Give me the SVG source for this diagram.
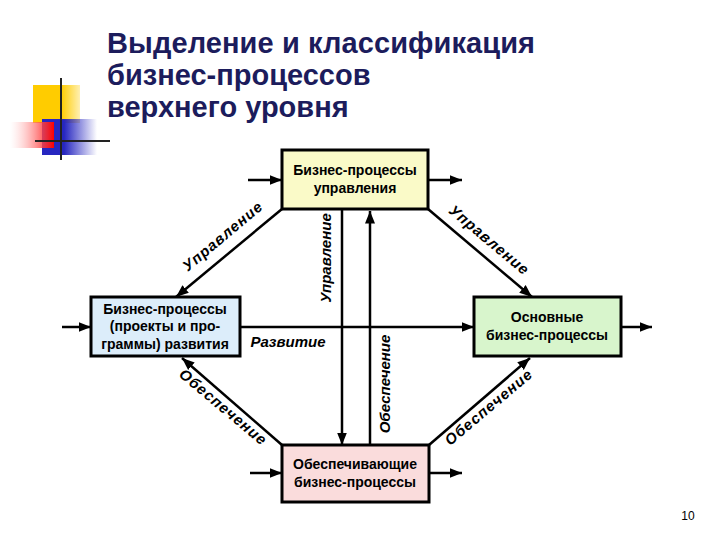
<svg xmlns="http://www.w3.org/2000/svg" width="720" height="540" viewBox="0 0 720 540">
<defs>
<marker id="ah" viewBox="0 0 10 10" refX="10" refY="5" markerWidth="5" markerHeight="5" orient="auto"><path d="M0,1 L10,5 L0,9 z" fill="#000"/></marker>
<linearGradient id="gr" x1="0" x2="1"><stop offset="0" stop-color="#fff" stop-opacity="0.3"/><stop offset="1" stop-color="#f00"/></linearGradient>
<linearGradient id="gb" x1="0" x2="1"><stop offset="0.4" stop-color="#2626c0"/><stop offset="1" stop-color="#2626c0" stop-opacity="0"/></linearGradient>
<linearGradient id="gy" x1="0" x2="1"><stop offset="0.6" stop-color="#ffcc00"/><stop offset="1" stop-color="#ffcc00" stop-opacity="0.3"/></linearGradient>
</defs>
<style>
.box{stroke:#000;stroke-width:3}
.t{font-family:"Liberation Sans",Arial,sans-serif;font-weight:bold;font-size:14px;text-anchor:middle}
.l{font-family:"Liberation Sans",Arial,sans-serif;font-weight:bold;font-style:italic;font-size:15px;text-anchor:middle}
.d{letter-spacing:1px}
.c{stroke:#000;stroke-width:2.5;fill:none;marker-end:url(#ah)}
</style>
<rect width="720" height="540" fill="#fff"/>
<g id="logo">
<rect x="33" y="85" width="47" height="38" fill="url(#gy)"/>
<rect x="42" y="119" width="55" height="36" fill="url(#gb)"/>
<rect x="10" y="122" width="44" height="26" fill="url(#gr)"/>
<line x1="61" y1="78" x2="61" y2="160" stroke="#222" stroke-width="2"/>
<line x1="35" y1="141" x2="110" y2="141" stroke="#222" stroke-width="2"/>
</g>
<g id="title" font-family="'Liberation Sans',Arial,sans-serif" font-weight="bold" font-size="29" fill="#1c1c5c">
<text x="107" y="53" textLength="428">Выделение и классификация</text>
<text x="107" y="85">бизнес-процессов</text>
<text x="107" y="117">верхнего уровня</text>
</g>
<g id="connectors">
<line class="c" x1="248" y1="180" x2="282" y2="180"/>
<line class="c" x1="428" y1="180" x2="462" y2="180"/>
<line class="c" x1="62" y1="327" x2="91" y2="327"/>
<line class="c" x1="621" y1="327" x2="652" y2="327"/>
<line class="c" x1="250" y1="473" x2="282" y2="473"/>
<line class="c" x1="429" y1="473" x2="462" y2="473"/>
<line class="c" x1="282" y1="209" x2="176" y2="297"/>
<line class="c" x1="428" y1="209" x2="532" y2="297"/>
<line class="c" x1="282" y1="445" x2="182" y2="358"/>
<line class="c" x1="429" y1="445" x2="530" y2="358"/>
<line class="c" x1="342" y1="209" x2="342" y2="445"/>
<line class="c" x1="370" y1="445" x2="370" y2="211"/>
<line class="c" x1="240" y1="327" x2="474" y2="327"/>
<text class="l" transform="translate(331,258) rotate(-90)">Управление</text>
<text class="l" transform="translate(390,384) rotate(-90)">Обеспечение</text>
<text class="l" x="288" y="347">Развитие</text>
<text class="l d" transform="translate(226,240) rotate(-40)">Управление</text>
<text class="l d" transform="translate(486,244) rotate(40)">Управление</text>
<text class="l d" transform="translate(220,411) rotate(40)">Обеспечение</text>
<text class="l d" transform="translate(492,411) rotate(-40)">Обеспечение</text>
</g>
<g id="top"><rect class="box" x="282" y="150" width="146" height="59" fill="#fafac8"/>
<text class="t" x="355" y="175">Бизнес-процессы</text><text class="t" x="355" y="193">управления</text></g>
<g id="left"><rect class="box" x="91" y="297" width="149" height="59" fill="#dcedfa"/>
<text class="t" x="165" y="314">Бизнес-процессы</text><text class="t" x="165" y="331">(проекты и про-</text><text class="t" x="165" y="349">граммы) развития</text></g>
<g id="right"><rect class="box" x="474" y="297" width="147" height="59" fill="#d8f5cc"/>
<text class="t" x="547" y="322">Основные</text><text class="t" x="547" y="340">бизнес-процессы</text></g>
<g id="bottom"><rect class="box" x="282" y="445" width="147" height="57" fill="#fadcdc"/>
<text class="t" x="355" y="469">Обеспечивающие</text><text class="t" x="355" y="487">бизнес-процессы</text></g>
<text x="688" y="520" font-family="'Liberation Sans',Arial,sans-serif" font-size="12" text-anchor="middle">10</text>
</svg>
